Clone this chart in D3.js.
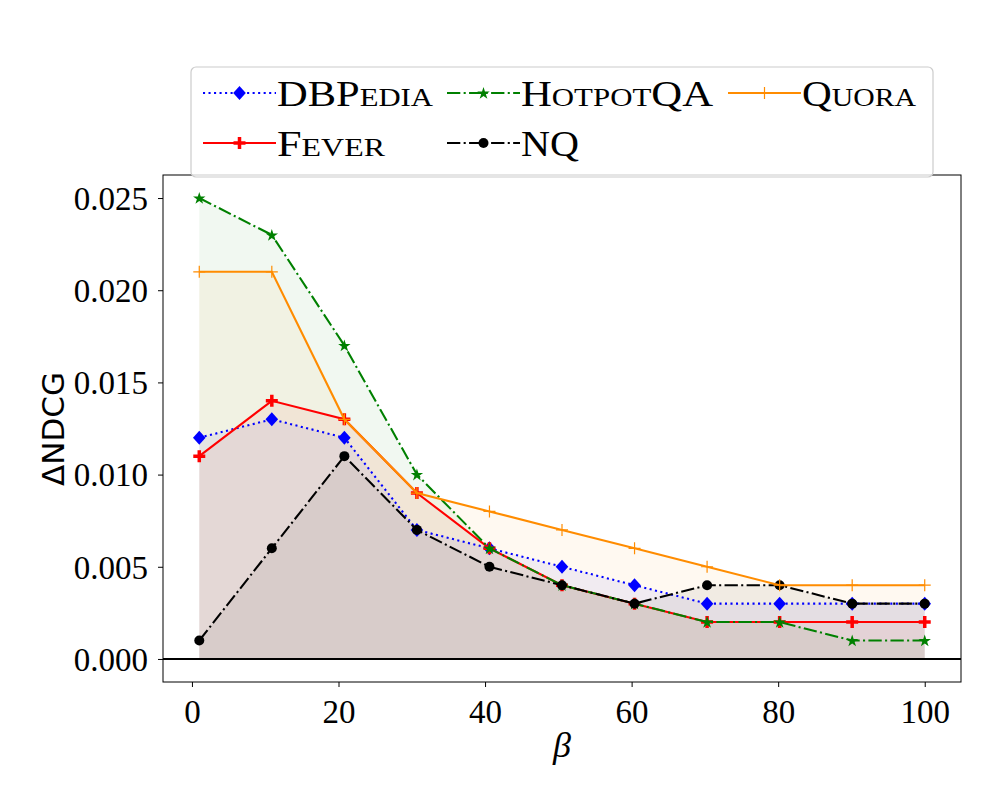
<!DOCTYPE html>
<html>
<head>
<meta charset="utf-8">
<script src="https://cdn.jsdelivr.net/npm/d3@7"></script>
<style>
  body { margin: 0; background: #fff; }
  svg text { font-family: "Liberation Serif", "DejaVu Serif", serif; }
</style>
</head>
<body>
<svg id="chart" width="1000" height="800"></svg>
<script>
// beta values (np.linspace(1, 100, 11))
const betas = [1, 10.9, 20.8, 30.7, 40.6, 50.5, 60.4, 70.3, 80.2, 90.1, 100];

const dbpedia = [0.012, 0.013, 0.012, 0.007, 0.006, 0.005, 0.004, 0.003, 0.003, 0.003, 0.003];
const fever = [0.011, 0.014, 0.013, 0.009, 0.006, 0.004, 0.003, 0.002, 0.002, 0.002, 0.002];
const hotpotqa = [0.025, 0.023, 0.017, 0.010, 0.006, 0.004, 0.003, 0.002, 0.002, 0.001, 0.001];
const nq = [0.001, 0.006, 0.011, 0.007, 0.005, 0.004, 0.003, 0.004, 0.004, 0.003, 0.003];
const quora = [0.021, 0.021, 0.013, 0.009, 0.008, 0.007, 0.006, 0.005, 0.004, 0.004, 0.004];

const xTicks = [0, 20, 40, 60, 80, 100];
const yTicks = [0, 0.005, 0.010, 0.015, 0.020, 0.025];

const lw = 2.08;
const dashDot = [6.4 * lw, 1.6 * lw, lw, 1.6 * lw];
const series = [
  { name: "DBPedia", big: "DBP", small: "edia", width: 156, values: dbpedia, color: "blue", dash: [lw, 1.65 * lw], marker: "diamond" },
  { name: "Fever", big: "F", small: "ever", width: 108, values: fever, color: "red", dash: null, marker: "boldplus" },
  { name: "HotpotQA", big: "H", small: "otpot", tail: "QA", width: 192, values: hotpotqa, color: "green", dash: dashDot, marker: "star" },
  { name: "NQ", big: "NQ", small: "", width: 58, values: nq, color: "black", dash: dashDot, marker: "circle" },
  { name: "Quora", big: "Q", small: "uora", width: 114, values: quora, color: "darkorange", dash: null, marker: "plus" }
];

const svg = d3.select("#chart");
const plotLeft = 163, plotRight = 961, plotTop = 175, plotBottom = 682;

const x = d3.scaleLinear().domain([-3.95, 104.95]).range([plotLeft, plotRight]);
const y = d3.scaleLinear().domain([-0.00125, 0.02625]).range([plotBottom, plotTop]);

// fills under each series
const area = d3.area()
  .x(function (d, i) { return x(betas[i]); })
  .y0(y(0))
  .y1(function (d) { return y(d); });

series.forEach(function (s) {
  svg.append("path")
    .attr("d", area(s.values))
    .attr("fill", s.color)
    .attr("fill-opacity", 0.055);
});

// zero line
svg.append("line")
  .attr("x1", plotLeft).attr("x2", plotRight)
  .attr("y1", y(0)).attr("y2", y(0))
  .attr("stroke", "black").attr("stroke-width", 2);

function drawMarker(g, type, cx, cy, color) {
  if (type === "diamond") {
    g.append("path")
      .attr("d", `M${cx},${cy - 7}L${cx + 6.3},${cy}L${cx},${cy + 7}L${cx - 6.3},${cy}Z`)
      .attr("fill", color);
  } else if (type === "circle") {
    g.append("circle").attr("cx", cx).attr("cy", cy).attr("r", 5).attr("fill", color);
  } else if (type === "star") {
    g.append("path")
      .attr("d", d3.symbol(d3.symbolStar, 48)())
      .attr("transform", `translate(${cx},${cy + 0.5})`)
      .attr("fill", color);
  } else if (type === "plus") {
    g.append("path")
      .attr("d", `M${cx - 6},${cy}H${cx + 6}M${cx},${cy - 6}V${cy + 6}`)
      .attr("stroke", color).attr("stroke-width", 1.2);
  } else if (type === "boldplus") {
    g.append("path")
      .attr("d", `M${cx - 6},${cy}H${cx + 6}M${cx},${cy - 6}V${cy + 6}`)
      .attr("stroke", color).attr("stroke-width", 3.5);
  }
}

const line = d3.line()
  .x(function (d, i) { return x(betas[i]); })
  .y(function (d) { return y(d); });

series.forEach(function (s) {
  const g = svg.append("g");
  g.append("path")
    .attr("d", line(s.values))
    .attr("fill", "none")
    .attr("stroke", s.color)
    .attr("stroke-width", lw)
    .attr("stroke-dasharray", s.dash ? s.dash.join(",") : null);
  s.values.forEach(function (v, i) {
    drawMarker(g, s.marker, x(betas[i]), y(v), s.color);
  });
});

// frame
svg.append("rect")
  .attr("x", plotLeft).attr("y", plotTop)
  .attr("width", plotRight - plotLeft).attr("height", plotBottom - plotTop)
  .attr("fill", "none").attr("stroke", "black").attr("stroke-width", 1);

// axes
const xAxis = svg.append("g")
  .attr("transform", `translate(0,${plotBottom})`)
  .call(d3.axisBottom(x).tickValues(xTicks).tickSize(5).tickPadding(8).tickFormat(d3.format("d")));
const yAxis = svg.append("g")
  .attr("transform", `translate(${plotLeft},0)`)
  .call(d3.axisLeft(y).tickValues(yTicks).tickSize(5).tickPadding(10).tickFormat(d3.format(".3f")));

[xAxis, yAxis].forEach(function (a) {
  a.select(".domain").remove();
  a.selectAll(".tick line").attr("stroke", "black").attr("stroke-width", 1);
  a.selectAll(".tick text")
    .attr("fill", "black")
    .style("font-family", "'Liberation Serif', serif")
    .style("font-size", "33px");
});
xAxis.selectAll(".tick text").attr("dy", "0.85em");
yAxis.selectAll(".tick text").attr("dy", "0.34em");

// axis labels
svg.append("text")
  .attr("x", 562).attr("y", 757)
  .attr("text-anchor", "middle")
  .style("font-size", "36px").style("font-style", "italic")
  .text("β");

svg.append("text")
  .attr("transform", "translate(64,429) rotate(-90)")
  .attr("text-anchor", "middle")
  .style("font-family", "'DejaVu Sans', sans-serif")
  .style("font-size", "31px")
  .text("ΔNDCG");

// legend
const legend = svg.append("g");
legend.append("rect")
  .attr("x", 191).attr("y", 67)
  .attr("width", 742).attr("height", 110)
  .attr("rx", 5)
  .attr("fill", "white").attr("fill-opacity", 0.8)
  .attr("stroke", "#cccccc").attr("stroke-width", 1.2);

const colX = [203, 447, 728];
const rowY = [93, 143];
series.forEach(function (s, i) {
  const col = Math.floor(i / 2), row = i % 2;
  const x0 = colX[col], yy = rowY[row];
  legend.append("line")
    .attr("x1", x0).attr("x2", x0 + 73)
    .attr("y1", yy).attr("y2", yy)
    .attr("stroke", s.color).attr("stroke-width", lw)
    .attr("stroke-dasharray", s.dash ? s.dash.join(",") : null);
  drawMarker(legend, s.marker, x0 + 36.5, yy, s.color);
  const t = legend.append("text")
    .attr("x", x0 + 74).attr("y", yy + 13)
    .attr("textLength", s.width)
    .attr("lengthAdjust", "spacingAndGlyphs")
    .style("font-size", "36px");
  t.append("tspan").text(s.big);
  if (s.small) t.append("tspan").style("font-size", "26px").text(s.small.toUpperCase());
  if (s.tail) t.append("tspan").text(s.tail);
});
</script>
</body>
</html>
